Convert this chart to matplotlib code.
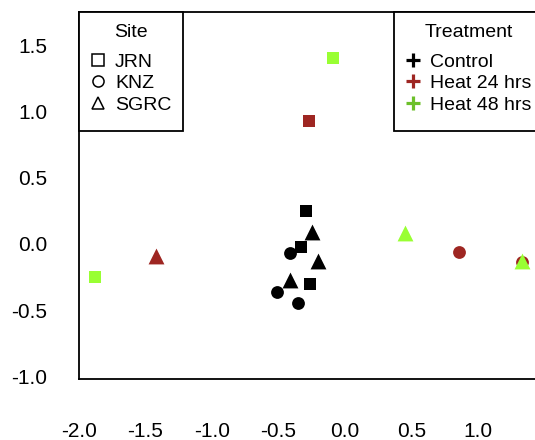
import matplotlib
matplotlib.use("Agg")
import matplotlib.pyplot as plt
from matplotlib.lines import Line2D
from matplotlib.offsetbox import DrawingArea

plt.rcParams['font.family'] = ['Liberation Sans', 'DejaVu Sans']

# Ordination scores
site = ["JRN", "SGRC", "JRN", "KNZ", "SGRC", "SGRC", "JRN", "KNZ", "KNZ",
        "JRN", "SGRC", "KNZ", "KNZ",
        "JRN", "JRN", "SGRC", "SGRC"]
treatment = ["Control"] * 9 + ["Heat 24 hrs"] * 4 + ["Heat 48 hrs"] * 4
x = [-0.29, -0.25, -0.33, -0.41, -0.20, -0.41, -0.26, -0.51, -0.35,
     -0.27, -1.42, 0.86, 1.33,
     -0.09, -1.88, 0.45, 1.33]
y = [0.25, 0.09, -0.02, -0.07, -0.13, -0.27, -0.30, -0.36, -0.45,
     0.93, -0.09, -0.06, -0.14,
     1.40, -0.25, 0.08, -0.13]

site_names = ["JRN", "KNZ", "SGRC"]
treat_names = ["Control", "Heat 24 hrs", "Heat 48 hrs"]
markers = {"JRN": "s", "KNZ": "o", "SGRC": "^"}
sizes = {"JRN": 78, "KNZ": 85, "SGRC": 130}
colors = {"Control": "black", "Heat 24 hrs": "#9E2622", "Heat 48 hrs": "#99FF33"}
legend_colors = {"Control": "black", "Heat 24 hrs": "#9E2622", "Heat 48 hrs": "#6CC02A"}

fig = plt.figure(figsize=(5.35, 4.4), dpi=100)
ax = fig.add_axes([79 / 535, 61 / 440, 465.5 / 535, 367 / 440])

# draw in treatment order so the green triangle sits on top of the red circle
for t in treat_names:
    for s in site_names:
        xs = [x[i] for i in range(len(x)) if site[i] == s and treatment[i] == t]
        ys = [y[i] for i in range(len(y)) if site[i] == s and treatment[i] == t]
        if xs:
            ax.scatter(xs, ys, marker=markers[s], s=sizes[s], c=colors[t],
                       linewidths=0, zorder=3)

ax.set_xlim(-2.0, 1.5)
ax.set_ylim(-1.02, 1.75)
ax.set_xticks([-2.0, -1.5, -1.0, -0.5, 0.0, 0.5, 1.0])
ax.set_yticks([-1.0, -0.5, 0.0, 0.5, 1.0, 1.5])
ax.xaxis.set_major_formatter(matplotlib.ticker.FormatStrFormatter("%.1f"))
ax.yaxis.set_major_formatter(matplotlib.ticker.FormatStrFormatter("%.1f"))
ax.tick_params(axis="both", length=0, labelsize=15)
ax.tick_params(axis="x", pad=31)
ax.tick_params(axis="y", pad=23)
for sp in ax.spines.values():
    sp.set_linewidth(1.3)

legend_kw = dict(loc="upper left", borderaxespad=0, fontsize=14,
                 title_fontsize=14, fancybox=False, framealpha=1,
                 edgecolor="black", handlelength=0.8, handletextpad=0.45,
                 labelspacing=0.2, borderpad=0.6)


def tidy_legend(leg):
    # thicker frame, tighter title gap, a little extra room at the bottom
    leg.get_frame().set_linewidth(1.3)
    leg._legend_box.sep = 9
    for col in leg._legend_handle_box.get_children():
        col.get_children().append(DrawingArea(1, 1.5))


site_handles = [Line2D([], [], linestyle="none", marker=markers[s], markersize=8,
                       markerfacecolor="none", markeredgecolor="black",
                       markeredgewidth=1.1) for s in site_names]
leg1 = ax.legend(site_handles, site_names, title="Site",
                 bbox_to_anchor=(0, 1), **legend_kw)
tidy_legend(leg1)
ax.add_artist(leg1)

treat_handles = [Line2D([], [], linestyle="none", marker="+", markersize=10,
                        markeredgewidth=2.3, color=legend_colors[t])
                 for t in treat_names]
leg2 = ax.legend(treat_handles, treat_names, title="Treatment",
                 bbox_to_anchor=((394 - 79) / 465.5, 1), **legend_kw)
tidy_legend(leg2)

fig.savefig("out.png", dpi=100)
